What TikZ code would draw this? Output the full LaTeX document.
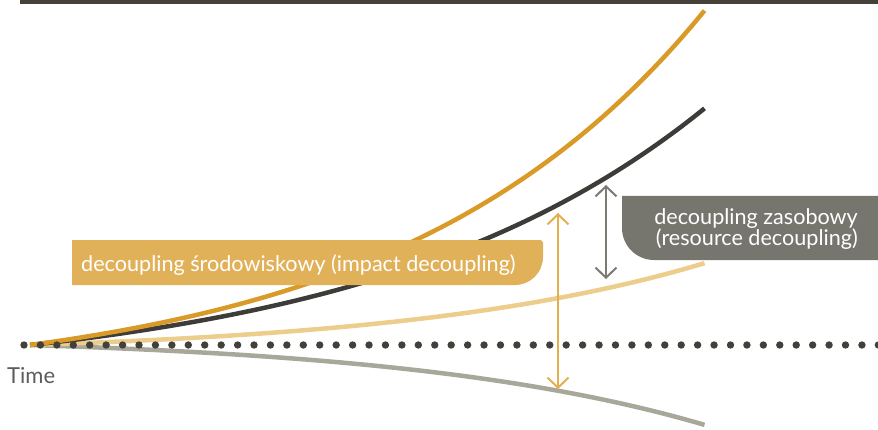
\documentclass[tikz,border=0pt]{standalone}
\usepackage{fontspec}
\setmainfont{Lato}
\usetikzlibrary{arrows.meta,positioning}
\definecolor{bar}{HTML}{45413A}
\definecolor{impact}{HTML}{D99A28}
\definecolor{gdp}{HTML}{3E3C38}
\definecolor{resource}{HTML}{EDCD8C}
\definecolor{wellbeing}{HTML}{A7A79A}
\definecolor{dotc}{HTML}{43403B}
\definecolor{goldbox}{HTML}{E1B159}
\definecolor{graybox}{HTML}{77766E}
\definecolor{goldarr}{HTML}{E3AF4F}
\definecolor{grayarr}{HTML}{7C7A72}
\definecolor{timec}{HTML}{5C5C5C}

\begin{document}
\begin{tikzpicture}[x=1pt,y=1pt,
    curve/.style={line width=4.5pt,#1},
    label/.style={inner sep=0pt,text=white,font=\fontsize{21.6}{21}\selectfont},
    dbl/.style={{Straight Barb[length=10pt,width=21pt]}-{Straight Barb[length=10pt,width=21pt]},line width=2pt,#1},
]
\useasboundingbox (0,0) rectangle (878,429);

% Top rule
\fill[bar] (20,424.5) rectangle (878,429);

% Curves
\draw[curve=wellbeing] plot[domain=0:1,samples=60,smooth] ({30+675*\x},{84-80*(exp(2.2*\x)-1)/(exp(2.2)-1)});
\draw[curve=resource] plot[domain=0:1,samples=60,smooth] ({30+675*\x},{84+82*(exp(2.2*\x)-1)/(exp(2.2)-1)});
\draw[curve=gdp] plot[domain=0:1,samples=60,smooth] ({30+675*\x},{84+237*(exp(2*\x)-1)/(exp(2)-1)});
\draw[curve=impact] plot[domain=0:1,samples=60,smooth] ({30+675*\x},{84+335*(exp(2.2*\x)-1)/(exp(2.2)-1)});

% Time axis
\foreach \i in {0,...,52}
  \fill[dotc] (24+16.43*\i,84) circle (3.7);
\node[inner sep=0pt,anchor=base west,text=timec,font=\fontsize{22}{22}\selectfont] (time) at (7,46) {Time};

% Impact decoupling
\fill[goldbox] (72,144) -- (72,189) -- (540,189) arc[start angle=90,end angle=0,radius=3]
  -- (543,172) arc[start angle=0,end angle=-90,radius=28] -- cycle;
\node[label,anchor=base west] (impact) at (81,158) {decoupling środowiskowy (impact decoupling)};
\coordinate (impTop) at (558,216);
\coordinate (impBot) at (558,40);
\draw[dbl=goldarr] (impBot) -- (impTop);

% Resource decoupling
\fill[graybox] (878,233) -- (622,233) -- (622,201) arc[start angle=180,end angle=270,radius=32]
  -- (878,169) -- cycle;
\node[label,anchor=east,align=right] (resource) at (858,200) {decoupling zasobowy\\(resource decoupling)};
\coordinate (resTop) at (606,244);
\coordinate (resBot) at (606,150);
\draw[dbl=grayarr] (resBot) -- (resTop);
\end{tikzpicture}
\end{document}
